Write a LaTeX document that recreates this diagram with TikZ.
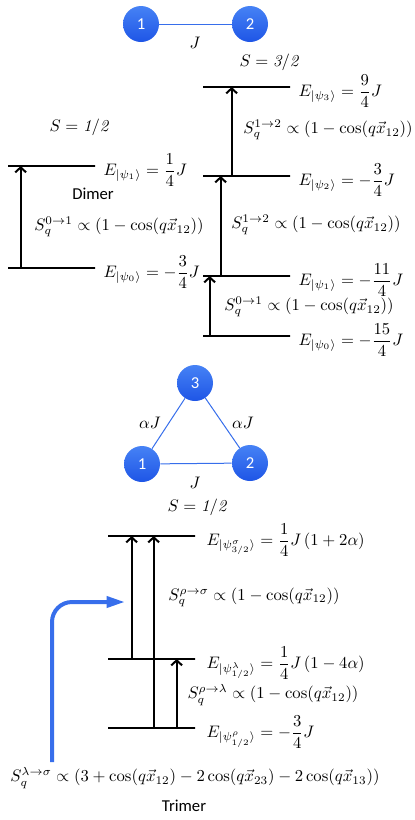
\documentclass[tikz,border=0pt]{standalone}
\usepackage{amsmath}
\usepackage{fontspec}
\setsansfont{Carlito}
\usepackage{xcolor}
\usetikzlibrary{arrows.meta,positioning,calc}
\definecolor{sitetop}{RGB}{70,130,245}
\definecolor{sitebot}{RGB}{30,85,230}
\definecolor{bondblue}{RGB}{55,110,235}

\begin{document}
\begin{tikzpicture}[x=0.6pt,y=-0.6pt,every node/.append style={inner sep=0.5pt},
  site/.style={circle,minimum size=21.6pt,inner sep=0,top color=sitetop,bottom color=sitebot,text=white,font=\sffamily},
  bond/.style={draw=bondblue,line width=0.6pt},
  elevel/.style={draw,minimum width=52.2pt,minimum height=0pt,inner sep=0,line width=1.6pt},
  uparr/.style={-{Straight Barb[length=3pt,width=6.5pt]},line width=1.2pt},
  elab/.style={anchor=west,inner sep=0,yshift=-2.4pt},
  bluearr/.style={-{Triangle[length=11pt,width=6.5pt]},draw=bondblue,line width=2.4pt,rounded corners=12pt}]
\useasboundingbox (0,0) rectangle (415,820);

\node[site] (a1) at (141,24) {1};
\node[site] (a2) at (250,24) {2};
\draw[bond] (a1) -- (a2);
\node (jd) at (195,43) {$J$};

\node (sl) at (79,127) {$S = \mathit{1/2}$};
\node[elevel] (lo1) at (51.5,166) {};
\node[elevel] (lo0) at (51.5,268) {};
\node[elab,right=4.2pt of lo1] (elo1) {$E_{|\psi_1\rangle} = \dfrac{1}{4}J$};
\node[elab,right=4.2pt of lo0] (elo0) {$E_{|\psi_0\rangle} = -\dfrac{3}{4}J$};
\node[font=\sffamily] (dim) at (93,194) {Dimer};
\node (slo) at (119,227) {$S_q^{0\to1} \propto (1-\cos(q\vec{x}_{12}))$};
\draw[uparr] ($(lo0.west)+(14,0)$) -- ($(lo1.west)+(14,0)$);

\node (sh) at (269,62) {$S = \mathit{3/2}$};
\node[elevel] (hi3) at (246.5,87) {};
\node[elevel] (hi2) at (246.5,176) {};
\node[elevel] (hi1) at (246.5,276) {};
\node[elevel] (hi0) at (246.5,336) {};
\node[elab,right=4.2pt of hi3] (ehi3) {$E_{|\psi_3\rangle} = \dfrac{9}{4}J$};
\node[elab,right=4.2pt of hi2] (ehi2) {$E_{|\psi_2\rangle} = -\dfrac{3}{4}J$};
\node[elab,right=4.2pt of hi1] (ehi1) {$E_{|\psi_1\rangle} = -\dfrac{11}{4}J$};
\node[elab,right=4.2pt of hi0] (ehi0) {$E_{|\psi_0\rangle} = -\dfrac{15}{4}J$};
\node (shi23) at (328,130) {$S_q^{1\to2} \propto (1-\cos(q\vec{x}_{12}))$};
\node (shi12) at (316,225) {$S_q^{1\to2} \propto (1-\cos(q\vec{x}_{12}))$};
\node (shi01) at (309,307) {$S_q^{0\to1} \propto (1-\cos(q\vec{x}_{12}))$};
\draw[uparr] ($(hi2.west)+(30,0)$) -- ($(hi3.west)+(30,0)$);
\draw[uparr] ($(hi1.west)+(19,0)$) -- ($(hi2.west)+(19,0)$);
\draw[uparr] ($(hi0.west)+(8,0)$) -- ($(hi1.west)+(8,0)$);

\node[site] (b3) at (195,383) {3};
\node[site] (b1) at (142,464) {1};
\node[site] (b2) at (250,463) {2};
\draw[bond] (b1) -- (b2);
\draw[bond] (b1) -- (b3);
\draw[bond] (b2) -- (b3);
\node (aj1) at (150,423) {$\alpha J$};
\node (aj2) at (243,423) {$\alpha J$};
\node (jt) at (195,483) {$J$};
\node (st) at (197,507) {$S = \mathit{1/2}$};

\node[elevel] (sig) at (151.5,536) {};
\node[elevel] (lam) at (151.5,659) {};
\node[elevel] (rho) at (151.5,728) {};
\node[elab,right=6pt of sig] (esig) {$E_{|\psi^{\sigma}_{3/2}\rangle} = \dfrac{1}{4}J\left(1+2\alpha\right)$};
\node[elab,right=6pt of lam] (elam) {$E_{|\psi^{\lambda}_{1/2}\rangle} = \dfrac{1}{4}J\left(1-4\alpha\right)$};
\node[elab,right=6pt of rho] (erho) {$E_{|\psi^{\rho}_{1/2}\rangle} = -\dfrac{3}{4}J$};
\node (srs) at (254,597) {$S_q^{\rho\to\sigma} \propto (1-\cos(q\vec{x}_{12}))$};
\node (srl) at (273,695) {$S_q^{\rho\to\lambda} \propto (1-\cos(q\vec{x}_{12}))$};
\node (sls) at (195,778) {$S_q^{\lambda\to\sigma} \propto (3+\cos(q\vec{x}_{12})-2\cos(q\vec{x}_{23})-2\cos(q\vec{x}_{13}))$};
\node[font=\sffamily] (tri) at (184,806) {Trimer};
\draw[uparr] ($(lam.west)+(25,0)$) -- ($(sig.west)+(25,0)$);
\draw[uparr] ($(rho.west)+(47,0)$) -- ($(sig.west)+(47,0)$);
\draw[uparr] ($(rho.west)+(70,0)$) -- ($(lam.west)+(70,0)$);

\coordinate (bstart) at (52,762);
\coordinate (bend) at (125,602);
\draw[bluearr] (bstart) |- (bend);
\end{tikzpicture}
\end{document}
